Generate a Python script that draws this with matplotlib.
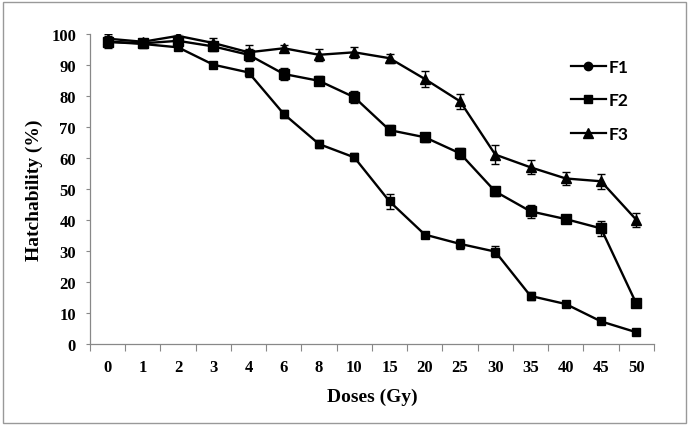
import numpy as np
import matplotlib
matplotlib.use("Agg")
import matplotlib.pyplot as plt
from matplotlib.lines import Line2D
from matplotlib.patches import Rectangle

# -- data --
doses = ["0", "1", "2", "3", "4", "6", "8", "10", "15", "20", "25", "30", "35", "40", "45", "50"]

f1 = [97.5, 96.8, 95.7, 90.1, 87.6, 74.2, 64.5, 60.2, 46.0, 35.3, 32.3, 29.8, 15.5, 12.9, 7.3, 3.8]
f1_err = [2.0, 1.0, 1.0, 0.8, 1.5, 1.3, 1.3, 1.3, 2.5, 0.8, 1.5, 1.8, 1.3, 0.8, 1.0, 0.8]

f2 = [97.5, 97.0, 97.8, 96.0, 93.3, 87.1, 84.9, 79.6, 69.0, 66.7, 61.5, 49.2, 42.8, 40.3, 37.3, 13.1]
f2_err = [1.5, 1.0, 1.0, 1.5, 2.0, 1.8, 1.5, 2.0, 1.5, 1.5, 1.8, 1.5, 2.0, 1.0, 2.5, 1.0]

f3 = [98.5, 97.5, 99.4, 97.1, 94.1, 95.4, 93.3, 94.1, 92.2, 85.5, 78.3, 61.1, 57.0, 53.4, 52.5, 40.1]
f3_err = [1.5, 1.0, 1.0, 1.5, 2.5, 1.0, 2.0, 1.8, 1.5, 2.5, 2.5, 3.0, 2.3, 2.0, 2.5, 2.3]

serif = "Liberation Serif"

fig = plt.figure(figsize=(6.89, 4.27), dpi=100)
ax = fig.add_axes([0.1306, 0.192, 0.8184, 0.726])

x = np.arange(len(doses))
ekw = dict(color="black", lw=1.7, ecolor="black", elinewidth=1.0, capsize=3.2, capthick=1.0)
ax.errorbar(x, f1, yerr=f1_err, marker="s", ms=5.2, **ekw)
ax.errorbar(x, f2, yerr=f2_err, marker="s", ms=6.5, **ekw)
ax.errorbar(x, f3, yerr=f3_err, marker="^", ms=7, **ekw)

ax.set_xlim(-0.5, len(doses) - 0.5)
ax.set_ylim(0, 100)
ax.set_yticks(np.arange(0, 101, 10))
ax.set_xticks(x)
ax.set_xticks(np.arange(-0.5, len(doses), 1), minor=True)
ax.set_xticklabels(doses, fontfamily=serif, fontweight="bold", fontsize=12)
for lab in ax.get_yticklabels():
    lab.set_fontfamily(serif)
    lab.set_fontweight("bold")
    lab.set_fontsize(12)
ax.tick_params(axis="x", which="major", length=0, pad=11)
ax.tick_params(axis="x", which="minor", length=5, color="#888888", width=0.8)
ax.tick_params(axis="y", length=3, color="#888888", width=0.8, pad=7)

for s in ["top", "right"]:
    ax.spines[s].set_visible(False)
for s in ["left", "bottom"]:
    ax.spines[s].set_color("#888888")
    ax.spines[s].set_linewidth(0.9)

ax.set_xlabel("Doses (Gy)", fontfamily=serif, fontweight="bold", fontsize=14, labelpad=9)
ax.set_ylabel("Hatchability (%)", fontfamily=serif, fontweight="bold", fontsize=14, labelpad=6)

handles = [
    Line2D([], [], color="black", lw=1.6, marker="o", ms=6),
    Line2D([], [], color="black", lw=1.6, marker="s", ms=6),
    Line2D([], [], color="black", lw=1.6, marker="^", ms=6.5),
]
ax.legend(handles, ["F1", "F2", "F3"], loc="upper left", bbox_to_anchor=(0.825, 0.97),
          frameon=False, handlelength=2.0, handletextpad=0.15, labelspacing=1.0,
          prop=dict(family="Lato", weight="bold", size=12.5))

fig.patches.append(Rectangle((0.004, 0.007), 0.992, 0.986, transform=fig.transFigure,
                             fill=False, edgecolor="#999999", lw=1.0))

fig.savefig("out.png", dpi=100)
